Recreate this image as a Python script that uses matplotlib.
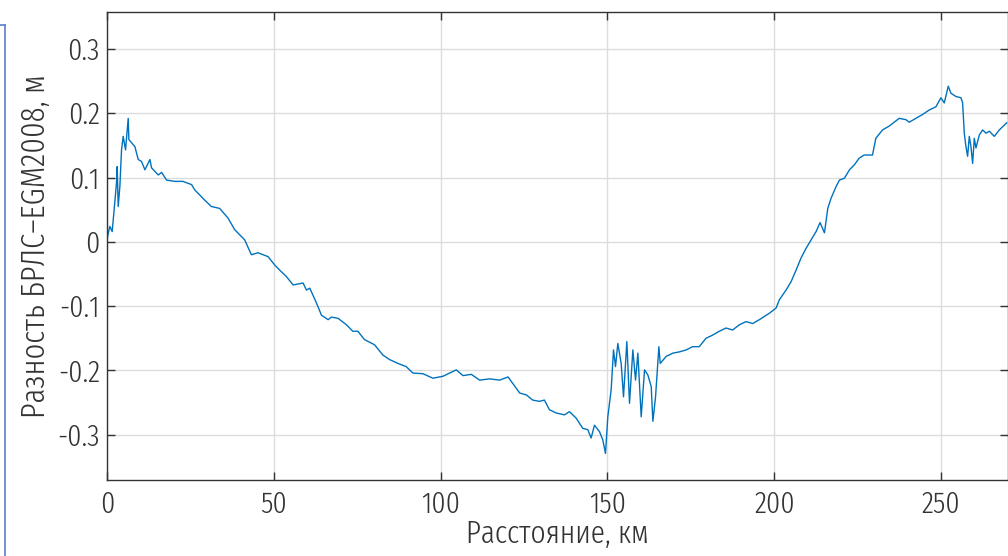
import matplotlib
matplotlib.use('Agg')
import matplotlib.pyplot as plt
from matplotlib.lines import Line2D

# distance along the profile, km
dist_km = [
    0.0, 0.2, 0.9, 1.6, 1.9, 2.9, 3.1, 3.4, 3.9, 4.4, 4.9, 5.6, 6.4, 6.6, 7.4,
    8.4, 9.4, 10.4, 11.4, 12.9, 13.4, 15.4, 16.4, 17.9, 20.4, 22.8, 25.4, 26.3,
    29.3, 31.3, 33.8, 36.3, 38.3, 41.3, 43.3, 45.3, 48.3, 50.3, 51.8, 53.8,
    55.8, 58.8, 59.8, 60.8, 62.8, 64.3, 66.3, 67.3, 69.3, 71.8, 73.7, 75.2,
    77.2, 80.2, 82.7, 84.7, 87.2, 89.7, 91.7, 94.7, 97.7, 100.7, 102.7, 104.7,
    106.7, 109.2, 111.7, 114.7, 117.7, 120.2, 121.6, 123.7, 125.7, 127.6,
    129.6, 131.1, 132.6, 134.6, 137.1, 138.6, 140.6, 142.6, 144.1, 145.1,
    146.1, 147.6, 148.6, 149.4, 150.1, 151.1, 151.8, 152.4, 153.1, 154.1,
    154.8, 155.8, 156.6, 157.6, 158.4, 159.1, 160.1, 161.1, 162.1, 163.1,
    163.6, 164.4, 165.4, 165.8, 167.6, 169.6, 171.6, 173.6, 175.5, 177.5,
    179.5, 181.5, 183.5, 185.5, 187.5, 189.5, 191.5, 193.5, 195.5, 198.5,
    200.5, 201.5, 203.5, 205.0, 206.5, 208.0, 209.5, 211.0, 212.5, 213.7,
    215.0, 216.0, 217.0, 218.5, 219.5, 221.0, 222.5, 224.0, 225.4, 226.9,
    229.4, 230.4, 232.4, 234.4, 235.4, 237.4, 239.4, 240.4, 242.4, 244.4,
    246.4, 248.4, 249.9, 250.9, 252.1, 252.9, 254.4, 255.9, 256.4, 256.9,
    257.4, 257.9, 258.4, 258.9, 259.4, 259.9, 260.4, 261.4, 262.4, 263.4,
    264.4, 265.9, 267.4, 269.6,
]

# height difference, m
diff_m = [
    -0.007, 0.008, 0.024, 0.016, 0.034, 0.092, 0.117, 0.055, 0.086, 0.143,
    0.164, 0.143, 0.192, 0.159, 0.154, 0.148, 0.128, 0.125, 0.112, 0.128,
    0.115, 0.104, 0.108, 0.096, 0.094, 0.094, 0.089, 0.081, 0.065, 0.055,
    0.052, 0.037, 0.019, 0.003, -0.020, -0.017, -0.023, -0.036, -0.044,
    -0.054, -0.067, -0.064, -0.075, -0.072, -0.095, -0.114, -0.121, -0.117,
    -0.119, -0.129, -0.139, -0.139, -0.152, -0.160, -0.176, -0.183, -0.189,
    -0.194, -0.204, -0.205, -0.212, -0.209, -0.204, -0.199, -0.208, -0.206,
    -0.215, -0.213, -0.215, -0.210, -0.220, -0.235, -0.238, -0.246, -0.248,
    -0.246, -0.261, -0.266, -0.269, -0.264, -0.274, -0.290, -0.292, -0.305,
    -0.285, -0.295, -0.308, -0.329, -0.272, -0.230, -0.168, -0.194, -0.158,
    -0.189, -0.241, -0.155, -0.251, -0.168, -0.215, -0.173, -0.272, -0.199,
    -0.207, -0.225, -0.279, -0.241, -0.163, -0.189, -0.178, -0.173, -0.171,
    -0.168, -0.163, -0.163, -0.150, -0.145, -0.139, -0.134, -0.137, -0.129,
    -0.124, -0.127, -0.121, -0.111, -0.103, -0.090, -0.075, -0.062, -0.044,
    -0.025, -0.010, 0.003, 0.016, 0.030, 0.014, 0.052, 0.068, 0.086, 0.096,
    0.099, 0.112, 0.120, 0.130, 0.135, 0.135, 0.161, 0.174, 0.180, 0.184,
    0.192, 0.190, 0.186, 0.192, 0.198, 0.205, 0.210, 0.224, 0.216, 0.242,
    0.231, 0.226, 0.224, 0.216, 0.169, 0.148, 0.133, 0.164, 0.148, 0.122,
    0.161, 0.146, 0.166, 0.174, 0.169, 0.172, 0.164, 0.174, 0.185,
]

x_ticks = [0, 50, 100, 150, 200, 250]
y_ticks = [-0.3, -0.2, -0.1, 0, 0.1, 0.2, 0.3]
y_tick_labels = ['-0.3', '-0.2', '-0.1', '0', '0.1', '0.2', '0.3']

plt.rcParams['font.family'] = ['Fira Sans Extra Condensed', 'DejaVu Sans']
plt.rcParams['font.weight'] = 300
plt.rcParams['axes.labelweight'] = 300

fig = plt.figure(figsize=(10.08, 5.56), dpi=100)
ax = fig.add_axes([0.106, 0.137, 0.894, 0.841])

ax.plot(dist_km, diff_m, color='#0072BD', linewidth=1.0)

ax.set_xlim(0, 270)
ax.set_ylim(-0.37, 0.357)
ax.set_xticks(x_ticks)
ax.set_xticklabels([str(t) for t in x_ticks])
ax.set_yticks(y_ticks)
ax.set_yticklabels(y_tick_labels)

ax.grid(True, color='#dcdcdc', linewidth=1.0)
ax.set_axisbelow(True)
ax.tick_params(direction='in', length=6, width=1, colors='#333333',
               labelsize=22, top=True, right=True)
ax.tick_params(axis='y', pad=5)
ax.tick_params(axis='x', pad=8)
for s in ax.spines.values():
    s.set_color('#333333')
    s.set_linewidth(1.0)

ax.set_xlabel('Расстояние, км', fontsize=23, fontweight=300,
              color='#333333', labelpad=0)
ax.set_ylabel('Разность БРЛС–EGM2008, м', fontsize=24, fontweight=300,
              color='#333333', labelpad=4)

# corner of the blue frame at the left edge
fig.add_artist(Line2D([0.0, 0.005], [0.955, 0.955], color='#5b7fc7', linewidth=1.2))
fig.add_artist(Line2D([0.005, 0.005], [0.955, 0.0], color='#5b7fc7', linewidth=1.2))

fig.savefig('out.png', dpi=100)
